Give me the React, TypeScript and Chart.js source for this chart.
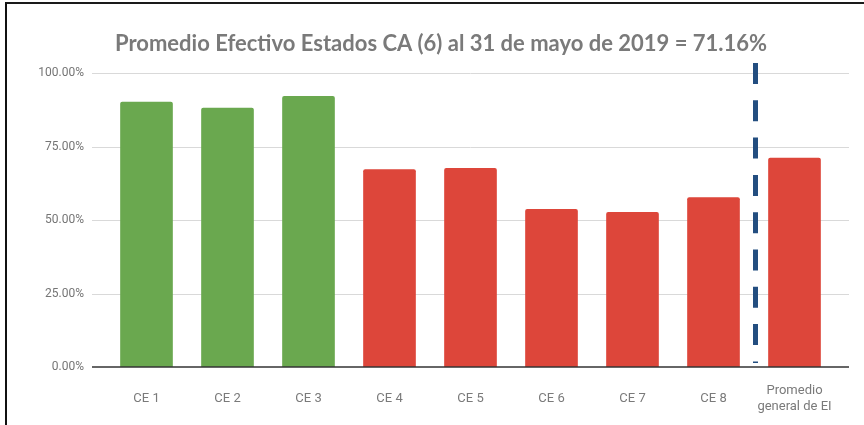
import React, { useEffect, useRef } from "react";
import { Chart, registerables } from "chart.js";

Chart.register(...registerables);

const categories: (string | string[])[] = [
  "CE 1", "CE 2", "CE 3", "CE 4", "CE 5", "CE 6", "CE 7", "CE 8",
  ["Promedio", "general de EI"],
];
const values: number[] = [90.2, 88.2, 92.2, 67.3, 67.7, 53.7, 52.7, 57.7, 71.16];
const aboveTarget: boolean[] = [true, true, true, false, false, false, false, false, false];
const yTicks: number[] = [0, 25, 50, 75, 100];
const titleText = "Promedio Efectivo Estados CA (6) al 31 de mayo de 2019 = 71.16%";

const GREEN = "#6aa84f";
const RED = "#dd463a";

const decorPlugin = {
  id: "decor",
  beforeDatasetsDraw(chart: any) {
    const { ctx, chartArea, scales } = chart;
    const y = scales.y;
    ctx.save();
    ctx.strokeStyle = "#d9d9d9";
    ctx.lineWidth = 1;
    yTicks.forEach((v) => {
      if (v === 0) return;
      const py = Math.round(y.getPixelForValue(v)) + 0.5;
      ctx.beginPath();
      ctx.moveTo(chartArea.left - 14, py);
      ctx.lineTo(chartArea.right + 14, py);
      ctx.stroke();
    });
    ctx.restore();
  },
  afterDatasetsDraw(chart: any) {
    const { ctx, chartArea, scales } = chart;
    const x = scales.x;
    const y = scales.y;
    ctx.save();
    ctx.strokeStyle = "#333333";
    ctx.lineWidth = 1.5;
    const py0 = y.getPixelForValue(0);
    ctx.beginPath();
    ctx.moveTo(chartArea.left - 14, py0);
    ctx.lineTo(chartArea.right + 14, py0);
    ctx.stroke();
    const n = categories.length;
    const xs = (x.getPixelForValue(n - 2) + x.getPixelForValue(n - 1)) / 2 + 1.5;
    ctx.strokeStyle = "#234e80";
    ctx.lineWidth = 5;
    ctx.setLineDash([21, 16.3]);
    ctx.beginPath();
    ctx.moveTo(xs, chartArea.top - 10);
    ctx.lineTo(xs, py0 - 4);
    ctx.stroke();
    ctx.restore();
  },
  afterDraw(chart: any) {
    const { ctx } = chart;
    ctx.save();
    ctx.fillStyle = "#7a7a7a";
    ctx.font = "bold 22px Lato";
    ctx.textAlign = "center";
    ctx.textBaseline = "middle";
    ctx.fillText(titleText, 441, 44);
    ctx.restore();
  },
};

export default function App() {
  const ref = useRef<HTMLCanvasElement | null>(null);

  useEffect(() => {
    document.body.style.margin = "0";
    if (!ref.current) return;
    const chart = new Chart(ref.current, {
      type: "bar",
      data: {
        labels: categories,
        datasets: [
          {
            data: values,
            backgroundColor: aboveTarget.map((g) => (g ? GREEN : RED)),
            borderRadius: { topLeft: 2, topRight: 2, bottomLeft: 0, bottomRight: 0 },
            borderSkipped: false,
            barPercentage: 1,
            categoryPercentage: 0.65,
          },
        ],
      },
      options: {
        animation: false,
        responsive: false,
        maintainAspectRatio: false,
        layout: { padding: { left: 10, right: 29, top: 73, bottom: 0 } },
        plugins: {
          legend: { display: false },
          tooltip: { enabled: false },
          title: { display: false },
        },
        scales: {
          x: {
            grid: { display: false, drawTicks: false, tickLength: 0 },
            border: { display: false },
            ticks: {
              color: "#7a7a7a",
              font: { family: "Roboto", size: 13, lineHeight: 1.23 },
              padding: 24,
              maxRotation: 0,
              autoSkip: false,
              crossAlign: "center",
            },
            afterFit(scale: any) {
              scale.height = 58;
            },
          },
          y: {
            min: 0,
            max: 100,
            afterBuildTicks(scale: any) {
              scale.ticks = yTicks.map((v) => ({ value: v }));
            },
            grid: { display: false, drawTicks: false, tickLength: 0 },
            border: { display: false },
            ticks: {
              color: "#757575",
              font: { family: "Roboto", size: 12 },
              padding: 22,
              callback: (v: any) => Number(v).toFixed(2) + "%",
            },
            afterFit(scale: any) {
              scale.width = 96;
            },
          },
        },
      },
      plugins: [decorPlugin],
    });
    return () => chart.destroy();
  }, []);

  return (
    <div style={{ position: "fixed", left: 0, top: 0, width: 864, height: 425, background: "#fff" }}>
      <canvas ref={ref} width={864} height={425} style={{ position: "absolute", left: 0, top: 0, width: 864, height: 425 }} />
      <div
        style={{
          position: "absolute",
          left: 5,
          top: 2,
          width: 859,
          height: 423,
          borderTop: "2px solid #1a1a1a",
          borderLeft: "2px solid #111",
          boxSizing: "border-box",
          pointerEvents: "none",
        }}
      />
    </div>
  );
}
